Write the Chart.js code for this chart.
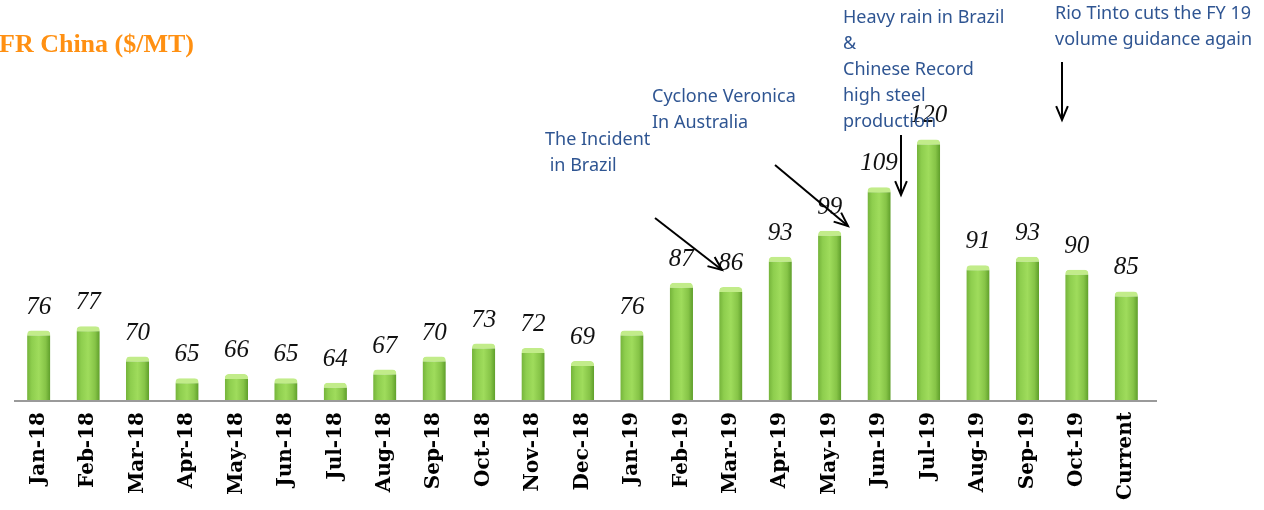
<!DOCTYPE html>
<html>
<head>
<meta charset="utf-8">
<script src="https://cdn.jsdelivr.net/npm/chart.js@4.4.1/dist/chart.umd.min.js"></script>
<style>
html,body{margin:0;padding:0;background:#fff;overflow:hidden;}
#wrap{position:relative;width:1264px;height:510px;}
</style>
</head>
<body>
<div id="wrap"><canvas id="c" width="1264" height="510"></canvas></div>
<script>
const categories = ["Jan-18","Feb-18","Mar-18","Apr-18","May-18","Jun-18","Jul-18","Aug-18","Sep-18","Oct-18","Nov-18","Dec-18","Jan-19","Feb-19","Mar-19","Apr-19","May-19","Jun-19","Jul-19","Aug-19","Sep-19","Oct-19","Current"];
const prices = [76,77,70,65,66,65,64,67,70,73,72,69,76,87,86,93,99,109,120,91,93,90,85];
const titleText = "CFR China ($/MT)";
const noteTexts = [
  ["The Incident", " in Brazil"],
  ["Cyclone Veronica", "In Australia"],
  ["Heavy rain in Brazil", "&", "Chinese Record", "high steel", "production"],
  ["Rio Tinto cuts the FY 19", "volume guidance again"]
];
const notePos = [[545,140],[652,97],[843,18],[1055,14]];
const arrowPos = [[655,218,722,270],[775,165,848,226],[901,135,901,195],[1062,62,1062,120]];

const BAR_FRAC = 0.47;

function barFill(ctx){
  const chart = ctx.chart;
  const area = chart.chartArea;
  if(!area || !chart.scales.x) return '#92D050';
  const cx = chart.scales.x.getPixelForValue(ctx.dataIndex);
  const half = (area.width / categories.length) * BAR_FRAC / 2;
  const g = chart.ctx.createLinearGradient(cx - half, 0, cx + half, 0);
  g.addColorStop(0, '#74B33A');
  g.addColorStop(0.2, '#8ECE4E');
  g.addColorStop(0.5, '#9FDC5C');
  g.addColorStop(0.8, '#86C447');
  g.addColorStop(1, '#5E9E2A');
  return g;
}

const overlay = {
  id: 'overlay',
  afterDatasetsDraw(chart){
    const c = chart.ctx;
    const meta = chart.getDatasetMeta(0);
    c.save();
    // axis line extension
    c.strokeStyle = '#9A9A9A';
    c.lineWidth = 2;
    c.beginPath();
    c.moveTo(chart.chartArea.left, chart.chartArea.bottom + 1);
    c.lineTo(chart.chartArea.right + 6, chart.chartArea.bottom + 1);
    c.stroke();
    // value labels
    c.font = 'italic 25px "Liberation Serif", serif';
    c.fillStyle = '#111';
    c.textAlign = 'center';
    c.textBaseline = 'alphabetic';
    meta.data.forEach((bar, i) => {
      c.fillText(String(prices[i]), bar.x, bar.y - 17);
    });
    // title
    c.font = 'bold 26px "Liberation Serif", serif';
    c.fillStyle = '#FF9012';
    c.textAlign = 'left';
    const cw = c.measureText('C').width;
    c.fillText(titleText, -cw - 1, 52);
    // notes
    c.font = '18px "Noto Sans", sans-serif';
    c.fillStyle = '#2F5592';
    c.textBaseline = 'middle';
    noteTexts.forEach((lines, k) => {
      const [x, y] = notePos[k];
      lines.forEach((t, j) => c.fillText(t, x, y + j * 26));
    });
    // arrows
    c.strokeStyle = '#000';
    c.lineWidth = 2;
    arrowPos.forEach(([x1,y1,x2,y2]) => {
      c.beginPath(); c.moveTo(x1,y1); c.lineTo(x2,y2); c.stroke();
      const a = Math.atan2(y2-y1, x2-x1);
      const L = 15, s = 0.4;
      c.beginPath();
      c.moveTo(x2 - L*Math.cos(a - s), y2 - L*Math.sin(a - s));
      c.lineTo(x2, y2);
      c.lineTo(x2 - L*Math.cos(a + s), y2 - L*Math.sin(a + s));
      c.stroke();
    });
    c.restore();
  }
};

new Chart(document.getElementById('c'), {
  type: 'bar',
  data: {
    labels: categories,
    datasets: [{
      data: prices,
      backgroundColor: barFill,
      borderColor: '#C2EC8A',
      borderWidth: {top: 5, left: 0, right: 0, bottom: 0},
      borderSkipped: 'bottom',
      borderRadius: {topLeft: 4, topRight: 4},
      barPercentage: BAR_FRAC,
      categoryPercentage: 1
    }]
  },
  options: {
    responsive: false,
    animation: false,
    layout: {padding: {left: 14, right: 113, top: 96, bottom: 0}},
    plugins: {legend: {display: false}, tooltip: {enabled: false}, title: {display: false}},
    scales: {
      y: {display: false, min: 60, max: 130},
      x: {
        afterFit(scale){ scale.height = 110; },
        grid: {display: false, drawTicks: false},
        border: {display: false},
        ticks: {
          maxRotation: 90, minRotation: 90, autoSkip: false, padding: 12,
          color: '#000',
          font: {family: '"DejaVu Serif", serif', weight: 'bold', size: 20}
        }
      }
    }
  },
  plugins: [overlay]
});
</script>
</body>
</html>
